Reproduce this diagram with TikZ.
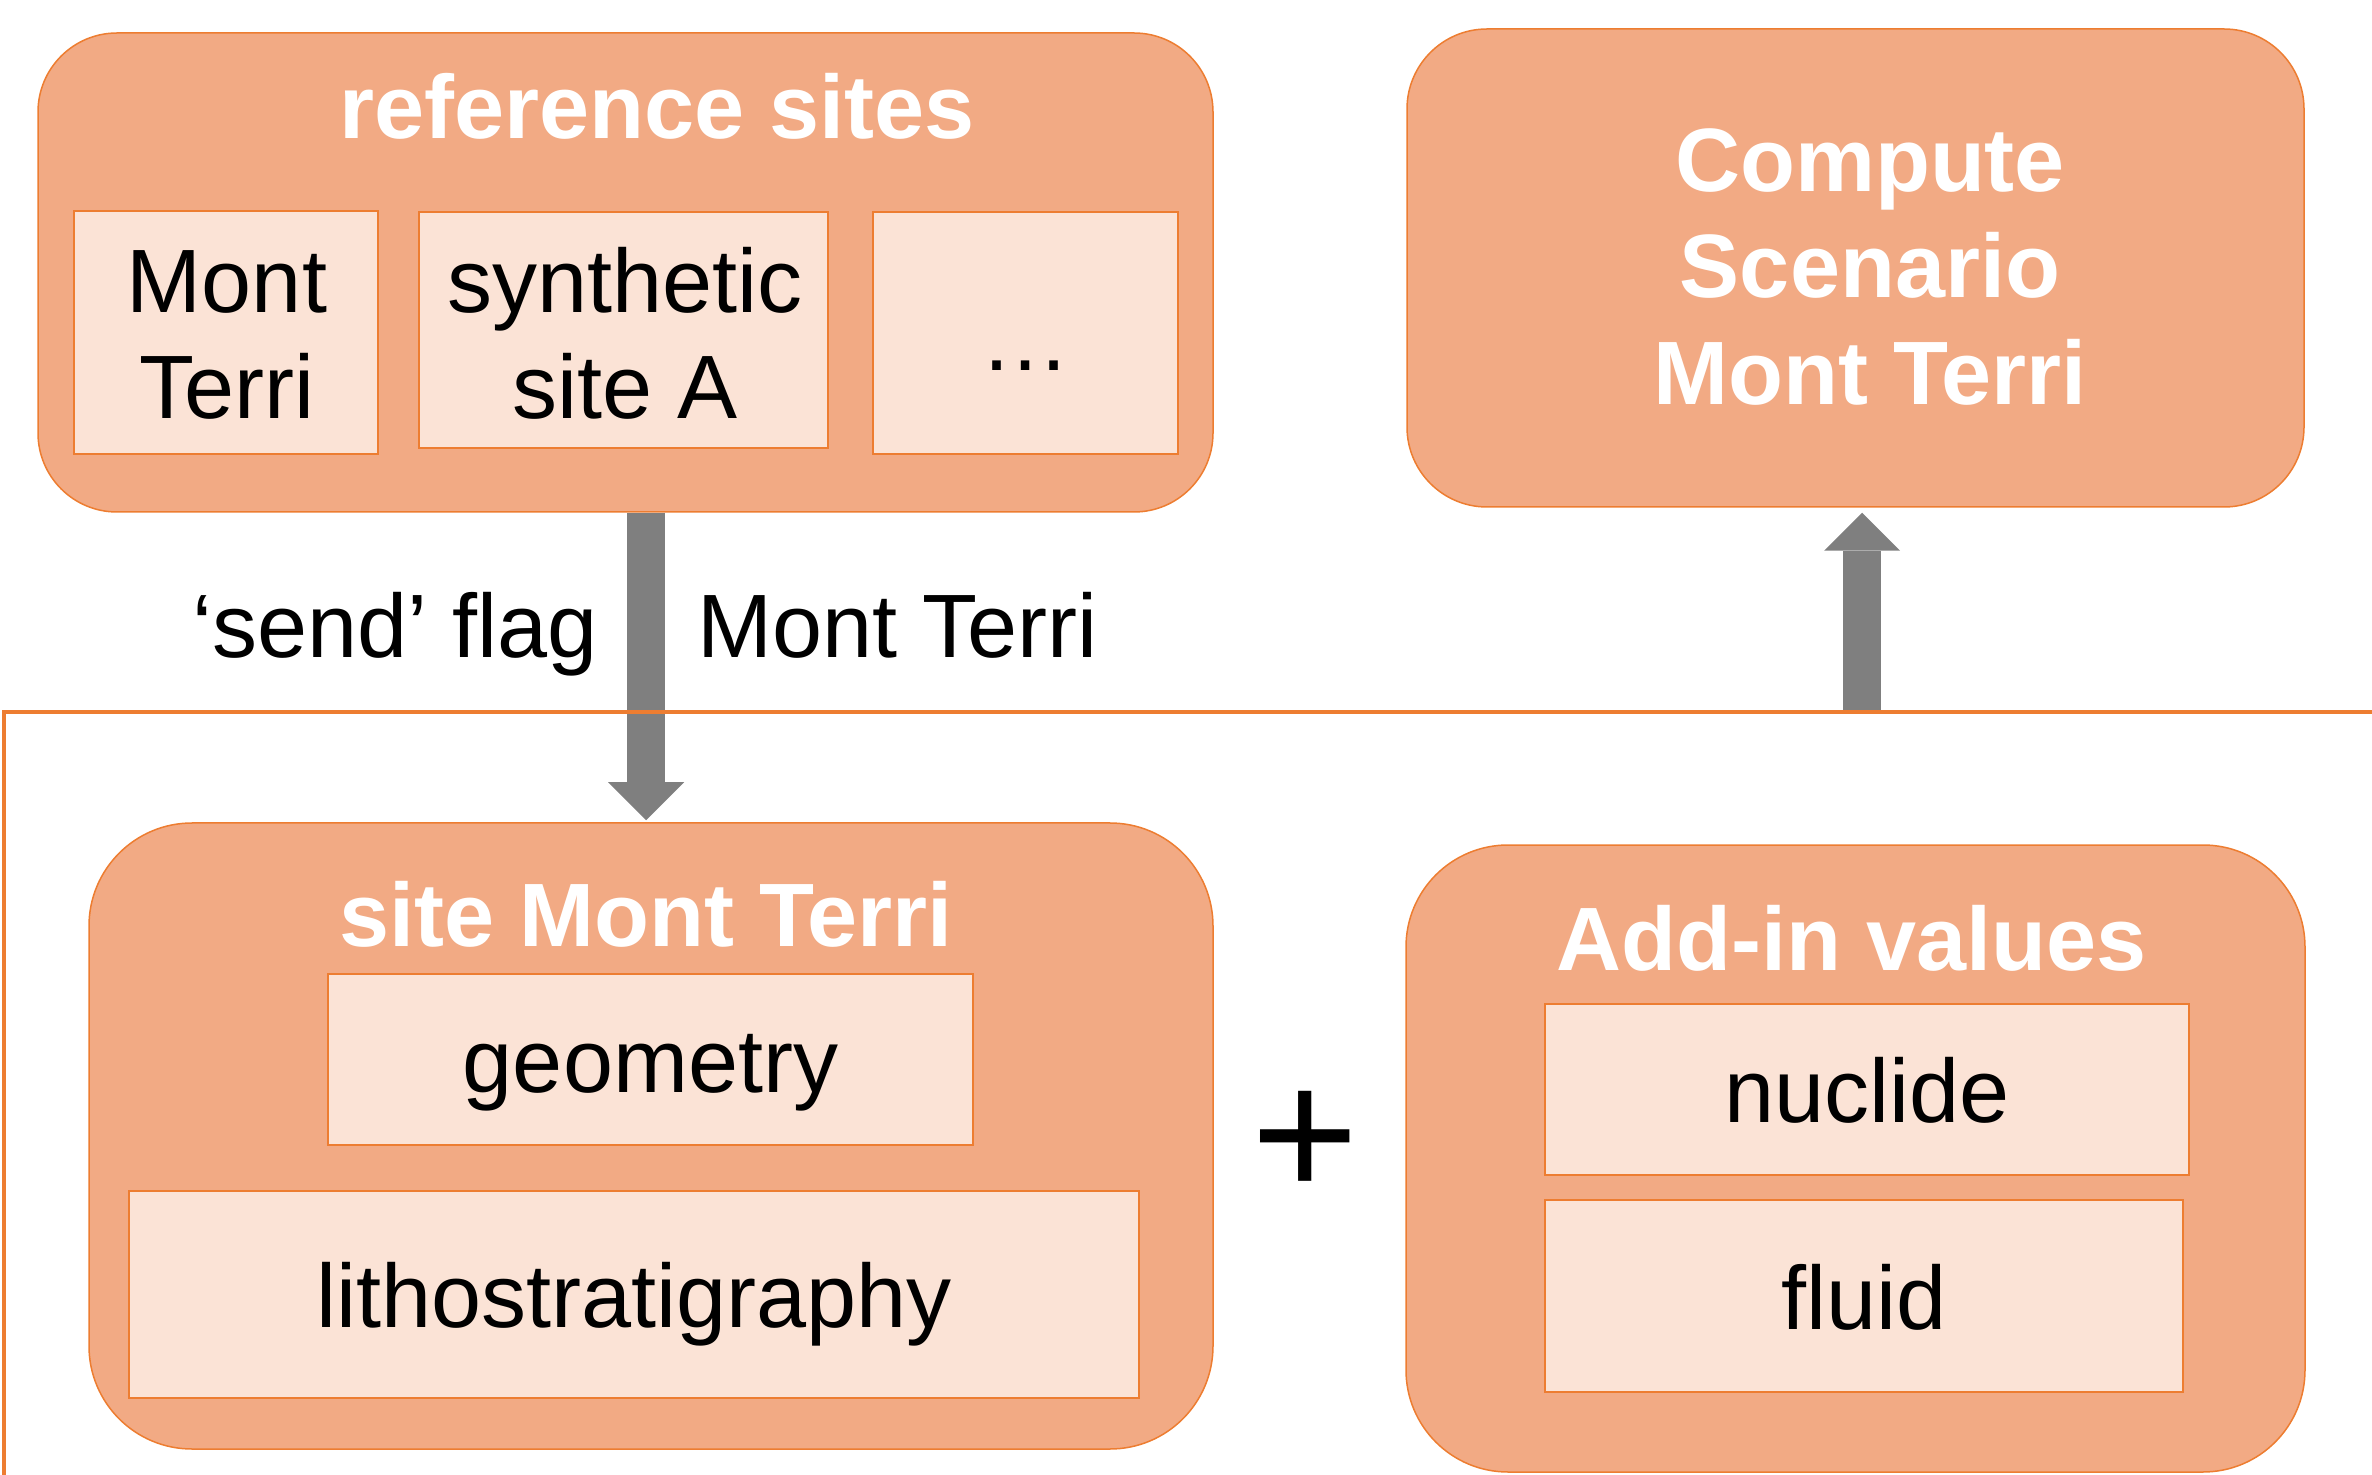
\documentclass[tikz,border=0pt]{standalone}
\usepackage{fontspec}
\setmainfont{Liberation Sans}
\usetikzlibrary{calc,arrows.meta}
\definecolor{boxfill}{HTML}{F2AA84}
\definecolor{innerfill}{HTML}{FBE3D6}
\definecolor{edge}{HTML}{ED7D31}
\definecolor{arrowgray}{HTML}{7F7F7F}
\begin{document}
\begin{tikzpicture}[x=0.5pt,y=-0.5pt,
  outerbox/.style={draw=edge, line width=0.75pt, fill=boxfill, rectangle, inner sep=0pt},
  innerbox/.style={draw=edge, line width=0.75pt, fill=innerfill, rectangle, inner sep=0pt,
    font=\fontsize{45}{54}\selectfont, text height=40.5pt, text depth=7.2pt},
  titletext/.style={anchor=base, text=white, inner sep=0pt,
    font=\fontsize{45}{54}\selectfont\bfseries},
  plaintext/.style={anchor=base, inner sep=0pt, font=\fontsize{45}{54}\selectfont},
  bigarrow/.style={draw=arrowgray, line width=19pt,
    -{Triangle[width=38pt,length=19pt,line width=0pt]}},
]
\useasboundingbox (0,0) rectangle (2372,1475);

% outer rounded panels
\node[outerbox, rounded corners=39.5pt, minimum width=587.5pt, minimum height=239.5pt] (refsites) at (625.5,272.5) {};
\node[outerbox, rounded corners=40pt, minimum width=448.5pt, minimum height=239pt] (compute) at (1855.5,268) {};
\node[outerbox, rounded corners=51.5pt, minimum width=562pt, minimum height=313pt] (sitemt) at (651,1136) {};
\node[outerbox, rounded corners=51pt, minimum width=449.5pt, minimum height=313.5pt] (addin) at (1855.5,1158.5) {};

% panel titles
\node[titletext] (refsitesT) at (657,139) {reference sites};
\node[titletext] (computeA) at (1870,192) {Compute};
\node[titletext] (computeB) at (1870,298) {Scenario};
\node[titletext] (computeC) at (1870,405) {Mont Terri};
\node[titletext] (sitemtT) at (646,946) {site Mont Terri};
\node[titletext] (addinT) at (1852,970) {Add-in values};

% reference site entries
\node[innerbox, minimum width=152pt, minimum height=121.5pt] (mtbox) at (226,332.5) {};
\node[plaintext] (mtA) at (227,313) {Mont};
\node[plaintext] (mtB) at (227,419) {Terri};
\node[innerbox, minimum width=204.5pt, minimum height=118pt] (synbox) at (623.5,330) {};
\node[plaintext] (synA) at (625,313) {synthetic};
\node[plaintext] (synB) at (625,419) {site A};
\node[innerbox, text height=44.5pt, minimum width=152.5pt, minimum height=121pt] (dotbox) at (1025.5,333) {…};

% site and add-in entries
\node[innerbox, minimum width=322.5pt, minimum height=85.5pt] (geom) at (650.5,1059.5) {geometry};
\node[innerbox, minimum width=505pt, minimum height=103.5pt] (litho) at (634,1294.5) {lithostratigraphy};
\node[innerbox, minimum width=322pt, minimum height=85.5pt] (nucl) at (1867,1089.5) {nuclide};
\node[innerbox, minimum width=319pt, minimum height=96pt] (fluid) at (1864,1296) {fluid};

% plus sign between the lower panels
\node[anchor=base, inner sep=0pt, font=\fontsize{92}{110}\selectfont] (plus) at (1305,1197) {+};

% block arrows
\coordinate (upfoot) at (1862,712);
\draw[bigarrow] ($(refsites.south)+(20.5,0)$) -- ($(sitemt.north)+(-5,-2)$);
\draw[bigarrow] (upfoot) -- ($(compute.south)+(6.5,5)$);

% arrow labels
\node[plaintext, anchor=base east] (sendlbl) at (598,658) {‘send’ flag};
\node[plaintext, anchor=base west] (mtlbl) at (697,658) {Mont Terri};

% frame around the lower part
\draw[draw=edge, line width=2pt] (4,1475) -- (4,712) -- (2372,712);
\end{tikzpicture}
\end{document}
